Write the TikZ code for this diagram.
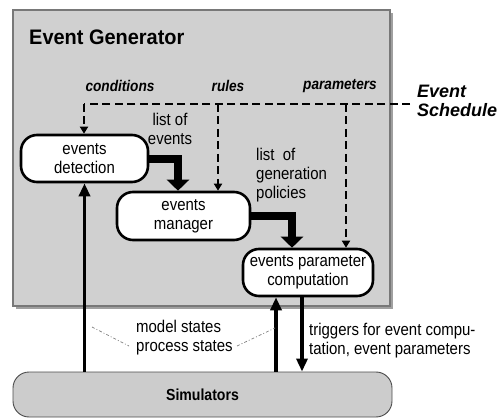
\documentclass[tikz,border=0pt]{standalone}
\usepackage{fontspec}
\setmainfont{Liberation Sans}[FakeStretch=0.88]
\newfontfamily\titlefont{Liberation Sans}[FakeStretch=0.95]
\newfontfamily\widefont{Liberation Sans}
\usetikzlibrary{arrows.meta}
\definecolor{panel}{RGB}{208,208,208}
\definecolor{panelrim}{RGB}{120,120,120}
\definecolor{simfill}{RGB}{204,204,204}
\tikzset{
  proc/.style={draw=black, line width=2.6pt, fill=white, rounded corners=16pt,
    align=center, inner sep=0pt, font=\fontsize{17}{19}\selectfont},
  flow/.style={line width=7.5pt, -{Triangle[width=22pt,length=11pt]}},
  feed/.style={line width=3.2pt, -{Triangle[width=11pt,length=13pt]}},
  sched/.style={line width=2.2pt, dash pattern=on 8pt off 4.5pt},
  schedarrow/.style={sched, -{Triangle[width=8pt,length=7pt]}},
  tag/.style={font=\bfseries\itshape\fontsize{15.5}{17}\selectfont, inner sep=0pt},
  note/.style={font=\fontsize{17}{19}\selectfont, align=left, inner sep=0pt},
  hint/.style={gray, line width=0.7pt, dash pattern=on 3pt off 2pt on 1pt off 2pt}
}
\begin{document}
\begin{tikzpicture}[x=1pt,y=-1pt]
\useasboundingbox (0,0) rectangle (500,419);

% generator panel with shadow
\fill[panelrim!70] (16,13) rectangle (393,309);
\draw[panelrim, line width=1.2pt, fill=panel] (13,10) rectangle (390,306);
\node[anchor=west, font=\titlefont\bfseries\fontsize{21}{23}\selectfont, inner sep=0pt] (title) at (29,37) {Event Generator};

% simulators
\node[draw=black!70, line width=0.9pt, fill=simfill, rounded corners=16pt,
  minimum width=379pt, minimum height=45pt, inner sep=0pt,
  font=\bfseries\fontsize{16}{18}\selectfont] (sim) at (202.5,394.5) {Simulators};

% processing steps
\node[proc, minimum width=127pt, minimum height=47pt] (det) at (84.5,158.5) {events\\detection};
\node[proc, minimum width=133pt, minimum height=48pt] (man) at (183.5,216) {events\\manager};
\node[proc, minimum width=130pt, minimum height=47pt] (comp) at (308,272.5) {events parameter\\computation};

% schedule inputs
\node[tag] (cond) at (120,86) {conditions};
\node[tag] (rules) at (228,86) {rules};
\node[tag] (pars) at (340,86) {parameters};
\node[font=\widefont\bfseries\itshape\fontsize{18}{18.5}\selectfont, align=left, inner sep=0pt, anchor=west] (es) at (417,101) {Event\\Schedule};

\coordinate (sl) at (84,104);
\coordinate (sr) at (410,104);
\coordinate (sm) at (218,104);
\coordinate (sp) at (346,104);
\draw[sched] (sr) -- (sl);
\draw[schedarrow] (sl) -- (det.north -| sl);
\draw[schedarrow] (sm) -- (man.north -| sm);
\draw[schedarrow] (sp) -- (comp.north -| sp);

% main flow
\coordinate (k1) at (178,159);
\coordinate (k2) at (292,216);
\draw[flow] (det.east |- k1) -- (k1) -- (man.north -| k1);
\draw[flow] (man.east |- k2) -- (k2) -- (comp.north -| k2);
\node[note, align=center] (loe) at (170,129) {list of\\events};
\node[note, align=left, anchor=north west] (log) at (256,148) {list\ \ of\\generation\\policies};

% simulator links
\draw[feed] (sim.north -| det) -- (det.south);
\coordinate (up) at (276,0);
\coordinate (dn) at (302,0);
\draw[feed] (sim.north -| up) -- (comp.south -| up);
\draw[feed] (comp.south -| dn) -- (sim.north -| dn);

\node[note, anchor=north west] (st) at (136,320) {model states\\process states};
\node[note, anchor=north west] (trg) at (309,323) {triggers for event compu-\\tation, event parameters};
\coordinate (h1) at (92,327);
\coordinate (h2) at (129,346);
\coordinate (h3) at (237,346);
\coordinate (h4) at (275,328);
\draw[hint] (h1) -- (h2);
\draw[hint] (h3) -- (h4);
\end{tikzpicture}
\end{document}
